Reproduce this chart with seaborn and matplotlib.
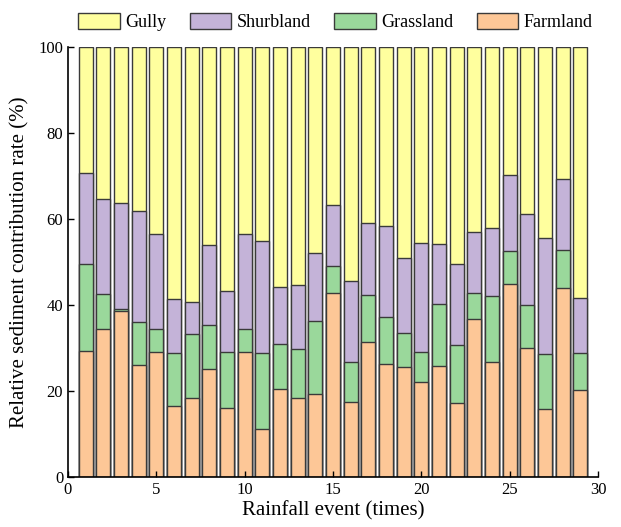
import numpy as np
import pandas as pd
import matplotlib
matplotlib.use("Agg")
import matplotlib.pyplot as plt
from matplotlib.patches import Patch
import seaborn as sns

events = list(range(1, 30))
farmland = [29.4, 34.4, 38.7, 26.2, 29.1, 16.6, 18.4, 25.1, 16.1, 29.1,
            11.2, 20.5, 18.5, 19.4, 42.8, 17.6, 31.4, 26.3, 25.6, 22.1,
            25.9, 17.3, 36.7, 26.9, 44.9, 30.1, 15.8, 43.9, 20.2]
grassland_top = [49.6, 42.5, 39.0, 36.0, 34.4, 28.9, 33.3, 35.4, 29.1, 34.4,
                 28.8, 31.0, 29.9, 36.2, 49.0, 26.7, 42.3, 37.2, 33.5, 29.0,
                 40.2, 30.7, 42.9, 42.1, 52.6, 40.1, 28.6, 52.7, 28.8]
shrub_top = [70.7, 64.7, 63.7, 61.9, 56.5, 41.5, 40.8, 53.9, 43.3, 56.5,
             54.8, 44.1, 44.6, 52.1, 63.3, 45.7, 59.2, 58.3, 50.9, 54.4,
             54.3, 49.6, 57.0, 57.9, 70.2, 61.2, 55.7, 69.4, 41.6]
gully_top = [100.0] * 29

series_names = ["Gully", "Shurbland", "Grassland", "Farmland"]
colors = {"Gully": "#FFFF9E", "Shurbland": "#C4B3D8",
          "Grassland": "#9AD89B", "Farmland": "#FDC797"}

df = pd.DataFrame({"event": events, "Gully": gully_top, "Shurbland": shrub_top,
                   "Grassland": grassland_top, "Farmland": farmland})

plt.rcParams["font.family"] = ["Liberation Serif", "DejaVu Serif"]
fig = plt.figure(figsize=(6.21, 5.27), dpi=100)
ax = fig.add_axes([0.1095, 0.0943, 0.8535, 0.8167])

for name in series_names:
    sns.barplot(data=df, x="event", y=name, native_scale=True, ax=ax,
                color=colors[name], saturation=1, width=0.8,
                edgecolor="#3a3a3a", linewidth=1.0, errorbar=None)

ax.set_xlim(0, 30)
ax.set_ylim(0, 100)
ax.set_xticks(range(0, 31, 5))
ax.set_yticks(range(0, 101, 20))
ax.tick_params(direction="in", labelsize=12, length=4, width=1)
ax.set_xlabel("Rainfall event (times)", fontsize=15, labelpad=2)
ax.set_ylabel("Relative sediment contribution rate (%)", fontsize=15, labelpad=6)
for s in ["top", "right"]:
    ax.spines[s].set_visible(False)
for s in ["left", "bottom"]:
    ax.spines[s].set_linewidth(1.2)

handles = [Patch(facecolor=colors[n], edgecolor="#3a3a3a", label=n) for n in series_names]
fig.legend(handles=handles, loc="center", bbox_to_anchor=(0.540, 0.958), ncol=4,
           frameon=False, fontsize=13, handlelength=2.3, handleheight=0.95,
           columnspacing=1.3, handletextpad=0.3, borderpad=0.1)

fig.savefig("out.png", dpi=100)
